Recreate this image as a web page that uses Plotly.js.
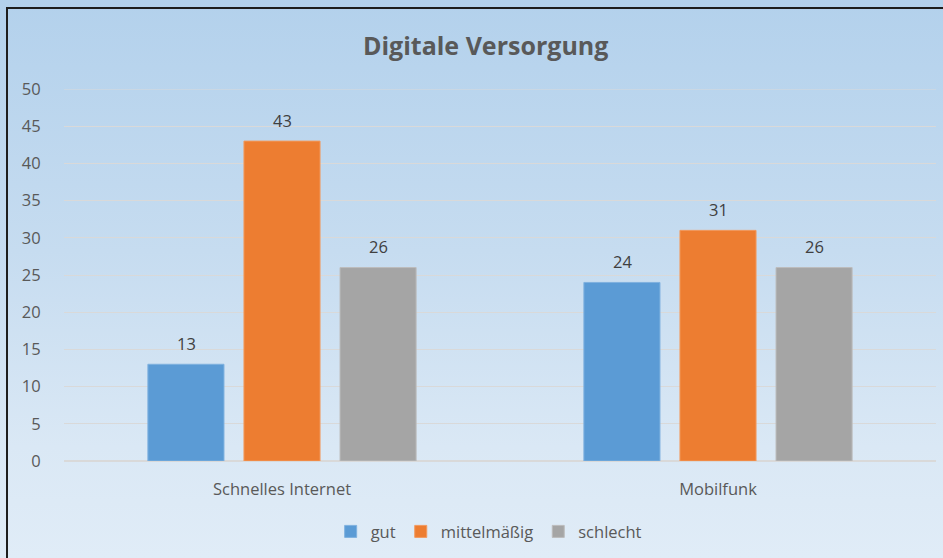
<!DOCTYPE html>
<html>
<head>
<meta charset="utf-8">
<script src="https://cdn.plot.ly/plotly-3.0.1.min.js"></script>
<style>
  html, body { margin: 0; padding: 0; width: 943px; height: 558px; overflow: hidden; }
  body { background: linear-gradient(to bottom, #b3d1ec 0%, #c6dcf0 45%, #dae8f5 80%, #e0ecf7 100%); position: relative; }
  #frame { position: absolute; left: 6px; top: 7px; width: 1000px; height: 600px; border-left: 2px solid #1e1e1e; border-top: 2px solid #1e1e1e; box-sizing: border-box; }
  #chart { position: absolute; left: 0; top: 0; width: 943px; height: 558px; }
</style>
</head>
<body>
<div id="frame"></div>
<div id="chart"></div>
<script>
const categories = ["Schnelles Internet", "Mobilfunk"];
const seriesNames = ["gut", "mittelmäßig", "schlecht"];
const gutValues = [13, 24];
const mittelValues = [43, 31];
const schlechtValues = [26, 26];
const yTicks = [0, 5, 10, 15, 20, 25, 30, 35, 40, 45, 50];

const colors = ["#5b9bd5", "#ed7d31", "#a5a5a5"];
const outlines = ["#7fb1df", "#f29a5e", "#bcbcbc"];
const values = [gutValues, mittelValues, schlechtValues];

const font = "Open Sans, Noto Sans, sans-serif";
const textSize = 16.5;
const yMax = yTicks[yTicks.length - 1];

const traces = values.map((v, i) => ({
  type: "bar",
  name: seriesNames[i],
  x: categories,
  y: v,
  marker: { color: colors[i], line: { color: outlines[i], width: 1 } },
  hoverinfo: "none"
}));

// data labels placed via the axes (category + group offset, value)
const slot = 96; // px between bar centres within a group
const annotations = [];
values.forEach((v, i) => {
  v.forEach((val, j) => {
    annotations.push({
      x: categories[j],
      y: val,
      xref: "x",
      yref: "y",
      text: String(val),
      showarrow: false,
      xshift: (i - 1) * slot,
      yshift: 21,
      yanchor: "middle",
      font: { family: font, size: textSize, color: "#404040" }
    });
  });
});

const layout = {
  width: 943,
  height: 558,
  paper_bgcolor: "rgba(0,0,0,0)",
  plot_bgcolor: "rgba(0,0,0,0)",
  margin: { l: 64, r: 7, t: 89, b: 97 },
  barmode: "group",
  bargap: 0.339,
  bargroupgap: 0.208,
  title: {
    text: "<b>Digitale Versorgung</b>",
    font: { family: font, size: 25, color: "#595959" },
    x: 0.515,
    xanchor: "center",
    y: 0.917,
    yanchor: "middle"
  },
  xaxis: {
    type: "category",
    tickfont: { family: font, size: textSize, color: "#595959" },
    showgrid: false,
    showline: false,
    zeroline: false,
    ticks: "outside",
    ticklen: 13,
    tickcolor: "rgba(0,0,0,0)"
  },
  yaxis: {
    range: [0, yMax],
    tickvals: yTicks,
    ticktext: yTicks.map(String),
    tickfont: { family: font, size: textSize, color: "#595959" },
    showgrid: true,
    gridcolor: "#d9d9d9",
    gridwidth: 1,
    zeroline: true,
    zerolinecolor: "#d9d9d9",
    zerolinewidth: 2,
    showline: false,
    ticks: "outside",
    ticklen: 19,
    tickcolor: "rgba(0,0,0,0)"
  },
  shapes: [{
    type: "line",
    xref: "paper",
    yref: "y",
    x0: 0, x1: 1,
    y0: yMax, y1: yMax,
    line: { color: "#d9d9d9", width: 1 },
    layer: "below"
  }],
  annotations: annotations,
  showlegend: true,
  legend: {
    orientation: "h",
    x: 0.487,
    xanchor: "center",
    y: -0.19,
    yanchor: "middle",
    font: { family: font, size: textSize, color: "#595959" },
    itemwidth: 30,
    traceorder: "normal",
    bgcolor: "rgba(0,0,0,0)"
  }
};

Plotly.newPlot("chart", traces, layout, { displayModeBar: false, staticPlot: true });
</script>
</body>
</html>
